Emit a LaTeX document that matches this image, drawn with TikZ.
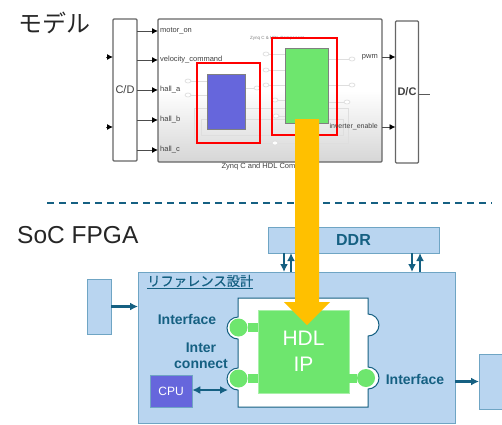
\documentclass[tikz,border=0pt]{standalone}
\usepackage{fontspec}
\setmainfont{Liberation Sans}
\newfontfamily\jpfont{Noto Sans CJK JP}
\newfontfamily\jpmedium[FakeBold=0.35]{Noto Sans CJK JP}
\usetikzlibrary{arrows.meta}
\definecolor{deepteal}{HTML}{156082}
\definecolor{paleblue}{HTML}{B9D5F0}
\definecolor{edgeblue}{HTML}{6FA5C4}
\definecolor{ipgreen}{HTML}{6EE66E}
\definecolor{cpublue}{HTML}{6666DC}
\definecolor{gold}{HTML}{FFC000}
\tikzset{
  simblock/.style={draw=black!60, line width=1.3pt, fill=white, inner sep=0pt, outer sep=0pt, rounded corners=1pt, text=black!75},
  simlabel/.style={inner sep=0pt, anchor=west, text=black!75, font=\fontsize{7.5}{9}\selectfont},
  simarrow/.style={draw=black!70, line width=0.9pt, -{Latex[length=6pt,width=6pt,black]}},
  faint/.style={draw=black!13, line width=0.7pt},
  redframe/.style={draw=red, line width=2.8pt},
  socblock/.style={draw=edgeblue, line width=1pt, fill=paleblue, inner sep=0pt, outer sep=0pt},
  soclabel/.style={inner sep=0pt, text=deepteal, font=\fontsize{14}{16.5}\bfseries\selectfont, align=center},
  socarrow/.style={draw=deepteal, line width=2.2pt, -{Latex[length=8pt,width=8pt]}},
  socboth/.style={draw=deepteal, line width=2.2pt, {Latex[length=8pt,width=8pt]}-{Latex[length=8pt,width=8pt]}},
  portdot/.style={circle, fill=ipgreen, minimum size=18pt, inner sep=0pt},
  portlink/.style={draw=ipgreen, line width=9pt},
  heading/.style={inner sep=0pt, anchor=west, text=black!85, font=\fontsize{24.5}{28}\selectfont},
}
\begin{document}
\begin{tikzpicture}[x=1pt,y=-1pt]
\useasboundingbox (0,0) rectangle (502,424);
\node[heading, font=\fontsize{24}{28}\selectfont\jpfont] (modeltitle) at (18,23) {モデル};
\node[heading] (soctitle) at (17,235) {SoC FPGA};

\node[simblock, minimum width=24pt, minimum height=142pt, font=\fontsize{11}{14}\selectfont] (cd) at (125,90) {C/D};
\node[simblock, minimum width=23pt, minimum height=142pt, font=\fontsize{11}{14}\bfseries\selectfont] (dc) at (407,92) {D/C};
\node[simblock, top color=white, bottom color=black!16, middle color=white, minimum width=224pt, minimum height=143pt] (comp) at (270,90.5) {};
\node[inner sep=0pt, text=black!75, font=\fontsize{7.5}{9}\selectfont] (complabel) at (270,167) {Zynq C and HDL Component};
\node[inner sep=0pt, text=black!50, font=\fontsize{4.5}{5}\selectfont] (subtitle) at (277,38) {Zynq C \& HDL Component};

\draw[faint] (194,108) rectangle (348,143);
\draw[faint] (201,119) rectangle (343,135);
\foreach \px/\py/\qx in {188/81/207,188/95/207,257/88/245,266/54/285,266/70/285,266/85/285,275/100/285,276/116/285,352/59/328,352/85/328,347/102/328,275/143/348}{
  \draw[faint] (\px,\py) -- (\qx,\py);
  \draw[faint, fill=white] (\px,\py) ellipse (3pt and 2pt);
}
\node[draw=black!50, line width=0.5pt, fill=cpublue, minimum width=38pt, minimum height=55pt, inner sep=0pt] (simcpu) at (226,101.5) {};
\node[draw=black!50, line width=0.5pt, fill=ipgreen, minimum width=43pt, minimum height=75pt, inner sep=0pt] (simip) at (306.5,85.5) {};
\node[redframe, minimum width=63pt, minimum height=80pt, inner sep=0pt] (cpuframe) at (228.5,103) {};
\node[redframe, minimum width=65pt, minimum height=97pt, inner sep=0pt] (ipframe) at (304.5,86.5) {};

\node[simlabel] (motor) at (160,31) {motor\_on};
\node[simlabel] (velocity) at (160,60) {velocity\_command};
\node[simlabel] (halla) at (160,90) {hall\_a};
\node[simlabel] (hallb) at (160,120) {hall\_b};
\node[simlabel] (hallc) at (160,150) {hall\_c};
\foreach \sig in {motor,velocity,halla,hallb,hallc}
  \draw[simarrow] (cd.east |- \sig.west) -- (comp.west |- \sig.west);
\node[simlabel, anchor=east] (pwm) at (378,57) {pwm};
\node[simlabel, anchor=east, font=\fontsize{7}{9}\selectfont] (inverter) at (378,127) {inverter\_enable};
\draw[simarrow] (comp.east |- pwm.east) -- (dc.west |- pwm.east);
\draw[simarrow] (comp.east |- inverter.east) -- (dc.west |- inverter.east);
\coordinate (cdina) at (106,57);
\coordinate (cdinb) at (106,127);
\coordinate (dcout) at (430,94);
\draw[simarrow] (cdina) -- (cd.west |- cdina);
\draw[simarrow] (cdinb) -- (cd.west |- cdinb);
\draw[draw=black!65, line width=0.8pt] (dc.east |- dcout) -- (dcout);

\coordinate (dashl) at (47,203);
\coordinate (dashr) at (492,203);
\draw[deepteal, line width=1.2pt, dash pattern=on 7pt off 5pt] (dashl) -- (dashr);

\node[socblock, minimum width=171pt, minimum height=26pt, text=deepteal, font=\fontsize{16}{19}\bfseries\selectfont] (ddr) at (353.5,240) {DDR};
\node[socblock, minimum width=317pt, minimum height=151pt] (refdesign) at (296.5,347.5) {};
\node[socblock, minimum width=24pt, minimum height=55pt] (leftio) at (99,306.5) {};
\node[socblock, minimum width=23pt, minimum height=55pt] (rightio) at (490.5,381.5) {};
\node[inner sep=0pt, anchor=west, text=deepteal, font=\fontsize{13.3}{15}\jpmedium\selectfont] (refname) at (147,282) {\underline{リファレンス設計}};

\coordinate (ddrda) at (284,0);
\coordinate (ddrua) at (291,0);
\coordinate (ddrdb) at (412,0);
\coordinate (ddrub) at (420,0);
\draw[socarrow] (ddr.south -| ddrda) -- (refdesign.north -| ddrda);
\draw[socarrow] (refdesign.north -| ddrua) -- (ddr.south -| ddrua);
\draw[socarrow] (ddr.south -| ddrdb) -- (refdesign.north -| ddrdb);
\draw[socarrow] (refdesign.north -| ddrub) -- (ddr.south -| ddrub);
\draw[socarrow] (leftio.east) -- (refdesign.west |- leftio.east);
\draw[socarrow] (refdesign.east |- rightio.west) -- (rightio.west);

\draw[draw=deepteal, line width=1pt, fill=white]
  (238,298) -- (368,298) -- (368,314) arc[start angle=-90, delta angle=180, radius=11] -- (368,367)
  arc[start angle=-90, delta angle=180, radius=11] -- (368,407) -- (238,407) -- (238,390)
  arc[start angle=90, delta angle=180, radius=11] -- (238,339)
  arc[start angle=90, delta angle=180, radius=11] -- cycle;
\node[fill=ipgreen, draw=ipgreen!60!white, line width=0.5pt, minimum width=91pt, minimum height=83pt, inner sep=0pt, text=white, font=\fontsize{21}{26}\selectfont, align=center] (hdlip) at (303.5,351.5) {HDL\\IP};
\node[portdot] (portla) at (238.5,327.5) {};
\node[portdot] (portlb) at (238.5,378.5) {};
\node[portdot] (portr) at (366,378) {};
\draw[portlink] (portla) -- (hdlip.west |- portla);
\draw[portlink] (portlb) -- (hdlip.west |- portlb);
\draw[portlink] (portr) -- (hdlip.east |- portr);

\node[soclabel] (iftop) at (187,319) {Interface};
\node[soclabel] (ifright) at (415,379) {Interface};
\node[soclabel] (interconnect) at (201,355.5) {Inter\\connect};
\node[fill=cpublue, draw=edgeblue, line width=0.5pt, minimum width=42pt, minimum height=32pt, inner sep=0pt, text=white, font=\fontsize{12}{14}\selectfont] (cpu) at (171,391) {CPU};
\coordinate (cpujoin) at (228,390);
\draw[socboth] (cpu.east |- cpujoin) -- (cpujoin);

\coordinate (flowtop) at (307,119);
\coordinate (flowtip) at (307,325);
\fill[gold] (flowtop) +(-12,0) -- ++(12,0) -- (319,302) -- (330,302) -- (flowtip) -- (284,302) -- (295,302) -- cycle;
\end{tikzpicture}
\end{document}
